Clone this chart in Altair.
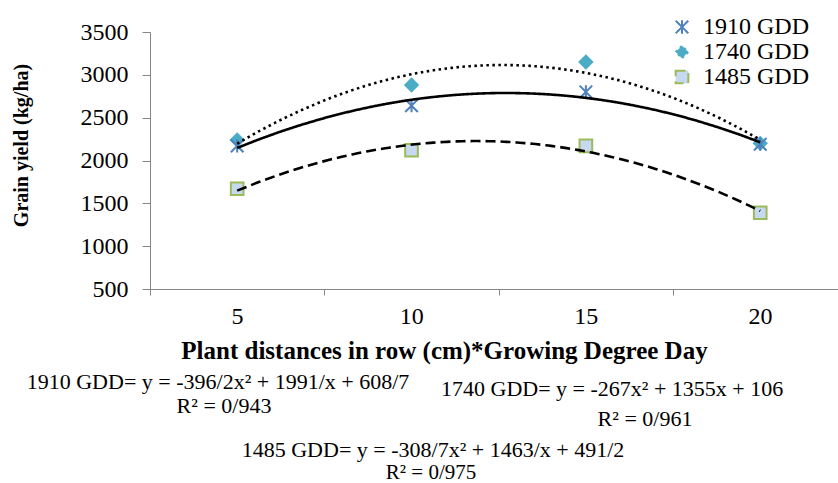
import altair as alt
import pandas as pd

# ---- data ----
series = ["1910 GDD", "1740 GDD", "1485 GDD"]
distances = [5, 10, 15, 20]
yield_1910 = [2170, 2640, 2800, 2190]
yield_1740 = [2240, 2880, 3150, 2200]
yield_1485 = [1670, 2120, 2170, 1390]

y_ticks = [500, 1000, 1500, 2000, 2500, 3000, 3500]
x_tick_edges = [2.5, 7.5, 12.5, 17.5]

eq_1910 = "1910 GDD= y = -396/2x² + 1991/x + 608/7"
r2_1910 = "R² = 0/943"
eq_1740 = "1740 GDD= y = -267x² + 1355x + 106"
r2_1740 = "R² = 0/961"
eq_1485 = "1485 GDD= y = -308/7x² + 1463/x + 491/2"
r2_1485 = "R² = 0/975"

x_title = "Plant distances in row (cm)*Growing Degree Day"
y_title = "Grain yield (kg/ha)"

# ---- table ----
rows = []
for name, vals in [("1740 GDD", yield_1740), ("1485 GDD", yield_1485), ("1910 GDD", yield_1910)]:
    for d, v in zip(distances, vals):
        rows.append({"series": name, "distance": d, "yield": v})
df = pd.DataFrame(rows)

SERIF = "Liberation Serif"
GREY = "#868686"
ASTERISK = "M-1,-1L1,1M-1,1L1,-1M0,-1.05L0,1.05"

xscale = alt.Scale(domain=[2.5, 22.23], nice=False, zero=False)
yscale = alt.Scale(domain=[500, 3500], nice=False, zero=False)

xaxis = alt.Axis(
    values=x_tick_edges, labelExpr="datum.value + 2.5", labelOffset=87,
    grid=False, domainColor=GREY, tickColor=GREY, tickSize=6,
    labelFont=SERIF, labelFontSize=24, labelColor="black", labelPadding=9,
    labelOverlap=False, labelBound=False, labelFlush=False,
    title=x_title, titleFont=SERIF, titleFontSize=25, titleFontWeight="bold",
    titleColor="black", titleX=294, titleY=69, titleBaseline="alphabetic",
)
yaxis = alt.Axis(
    values=y_ticks, format="d", grid=False, domainColor=GREY, tickColor=GREY, tickSize=8,
    labelFont=SERIF, labelFontSize=24, labelColor="black", labelPadding=14,
    title=y_title, titleFont=SERIF, titleFontSize=20, titleFontWeight="bold",
    titleColor="black", titleX=-119, titleY=113,
)

legend = alt.Legend(
    title=None, orient="none", legendX=520, legendY=-17, padding=0,
    labelFont=SERIF, labelFontSize=24, labelColor="black", labelOffset=9,
    rowPadding=1, symbolStrokeWidth=2, symbolSize=160, symbolOpacity=1,
)

points = alt.Chart(df).mark_point(filled=True, opacity=1, size=160, strokeWidth=2).encode(
    x=alt.X("distance:Q", scale=xscale, axis=xaxis),
    y=alt.Y("yield:Q", scale=yscale, axis=yaxis),
    shape=alt.Shape("series:N", scale=alt.Scale(domain=series, range=[ASTERISK, "diamond", "square"]), legend=legend),
    fill=alt.Fill("series:N", scale=alt.Scale(domain=series, range=["transparent", "#4BACC6", "#C6D9F1"]), legend=legend),
    stroke=alt.Stroke("series:N", scale=alt.Scale(domain=series, range=["#4F81BD", "#4BACC6", "#9BBB59"]), legend=legend),
)

trend = alt.Chart(df).transform_regression(
    "distance", "yield", groupby=["series"], method="poly", order=2
).mark_line(color="black", strokeWidth=2.6).encode(
    x=alt.X("distance:Q", scale=xscale, axis=xaxis),
    y=alt.Y("yield:Q", scale=yscale, axis=yaxis),
    strokeDash=alt.StrokeDash(
        "series:N",
        scale=alt.Scale(domain=series, range=[[1, 0], [2.5, 3.5], [10, 5]]),
        legend=None,
    ),
    detail="series:N",
)


def label(text, x, y, align="center", size=22):
    return alt.Chart(pd.DataFrame({"t": [text]})).mark_text(
        font=SERIF, fontSize=size, color="black", align=align, baseline="alphabetic"
    ).encode(text="t:N", x=alt.value(x), y=alt.value(y))


texts = [
    label(eq_1910, 68, 357),
    label(r2_1910, 74, 381),
    label(eq_1740, 291, 364, align="left"),
    label(r2_1740, 495, 394),
    label(eq_1485, 283, 425),
    label(r2_1485, 281, 447, size=21),
]

chart = alt.layer(points, trend, *texts).properties(
    width=688, height=257,
    autosize=alt.AutoSizeParams(type="none"),
    padding={"left": 150, "top": 32, "right": 0, "bottom": 194},
).configure(
    background="white", font=SERIF
).configure_view(strokeWidth=0, fill="white")

chart.save("out.html", embed_options={"renderer": "svg", "actions": False})
